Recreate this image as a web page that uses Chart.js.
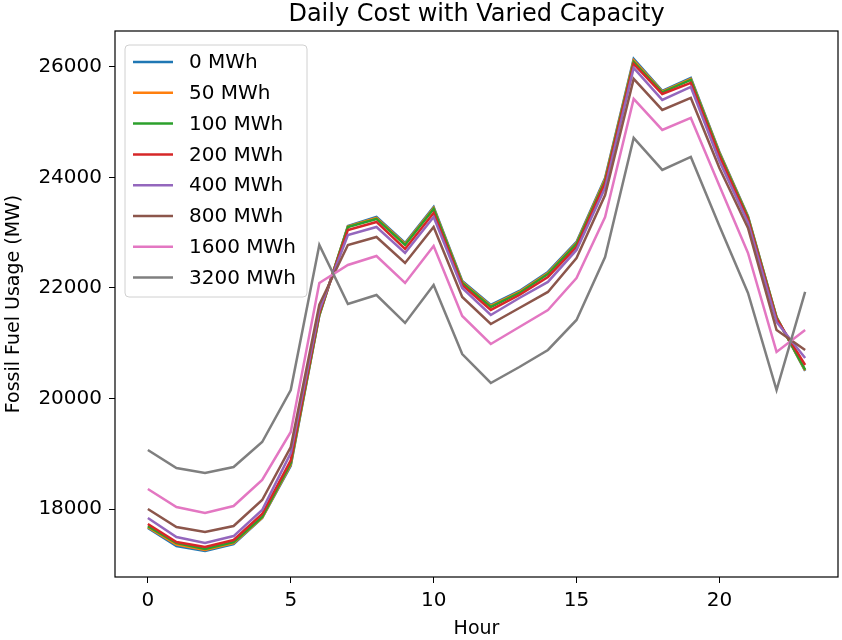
<!DOCTYPE html>
<html>
<head>
<meta charset="utf-8">
<script src="https://cdn.jsdelivr.net/npm/chart.js@4.4.1/dist/chart.umd.min.js"></script>
<style>
  html, body { margin: 0; padding: 0; background: #fff; }
</style>
</head>
<body>
<canvas id="chart" width="842" height="640"></canvas>
<script>
// data
const hours = [0, 1, 2, 3, 4, 5, 6, 7, 8, 9, 10, 11, 12, 13, 14, 15, 16, 17, 18, 19, 20, 21, 22, 23];
const capacities = ['0 MWh', '50 MWh', '100 MWh', '200 MWh', '400 MWh', '800 MWh', '1600 MWh', '3200 MWh'];
const xTicks = [0, 5, 10, 15, 20];
const yTicks = [18000, 20000, 22000, 24000, 26000];

const cap0    = [17656, 17330, 17240, 17367, 17837, 18780, 21500, 23122, 23285, 22814, 23466, 22127, 21692, 21946, 22290, 22833, 23990, 26145, 25566, 25801, 24462, 23300, 21475, 20500];
const cap50   = [17670, 17355, 17258, 17385, 17845, 18805, 21510, 23112, 23268, 22796, 23448, 22110, 21675, 21928, 22270, 22815, 23965, 26120, 25552, 25784, 24446, 23285, 21468, 20510];
const cap100  = [17690, 17385, 17276, 17403, 17855, 18830, 21520, 23104, 23249, 22778, 23430, 22090, 21656, 21910, 22253, 22796, 23937, 26090, 25540, 25765, 24430, 23270, 21460, 20520];
const cap200  = [17728, 17403, 17312, 17439, 17910, 18880, 21550, 23050, 23195, 22706, 23357, 22054, 21602, 21873, 22199, 22742, 23900, 26054, 25511, 25710, 24389, 23240, 21439, 20606];
const cap400  = [17837, 17493, 17385, 17511, 17982, 19013, 21600, 22959, 23104, 22633, 23285, 22000, 21511, 21819, 22109, 22688, 23810, 25982, 25403, 25638, 24299, 23180, 21385, 20733];
const cap800  = [18000, 17674, 17584, 17692, 18163, 19122, 21700, 22778, 22923, 22452, 23104, 21837, 21348, 21638, 21928, 22543, 23683, 25783, 25222, 25439, 24172, 23086, 21240, 20878];
const cap1600 = [18362, 18036, 17928, 18054, 18525, 19394, 22090, 22416, 22579, 22090, 22760, 21493, 20986, 21294, 21602, 22181, 23285, 25421, 24860, 25077, 23850, 22633, 20842, 21240];
const cap3200 = [19068, 18742, 18652, 18760, 19213, 20154, 22778, 21710, 21873, 21367, 22054, 20805, 20281, 20570, 20878, 21421, 22561, 24715, 24136, 24371, 23122, 21910, 20154, 21928];

const series = [cap0, cap50, cap100, cap200, cap400, cap800, cap1600, cap3200];
const colors = ['#1f77b4', '#ff7f0e', '#2ca02c', '#d62728', '#9467bd', '#8c564b', '#e377c2', '#7f7f7f'];

const FONT = "'DejaVu Sans', sans-serif";

const datasets = series.map((vals, i) => ({
  label: capacities[i],
  data: hours.map((h, j) => ({ x: h, y: vals[j] })),
  borderColor: colors[i],
  backgroundColor: colors[i],
  borderWidth: 2.5,
  pointRadius: 0,
  tension: 0,
  order: series.length - i  // later series on top, like matplotlib
}));

// title, frame and legend drawn by hand to match the matplotlib look
const extras = {
  id: 'extras',
  afterDatasetsDraw(chart) {
    const ctx = chart.ctx;
    const a = chart.chartArea;
    ctx.save();
    ctx.strokeStyle = '#000';
    ctx.lineWidth = 1.2;
    ctx.strokeRect(a.left, a.top, a.right - a.left, a.bottom - a.top);

    ctx.fillStyle = '#000';
    ctx.font = '24px ' + FONT;
    ctx.textAlign = 'center';
    ctx.textBaseline = 'middle';
    ctx.fillText('Daily Cost with Varied Capacity', (a.left + a.right) / 2, 15);

    // legend box
    const bx = 125, by = 45, bw = 182, bh = 252, r = 4;
    ctx.beginPath();
    ctx.moveTo(bx + r, by);
    ctx.arcTo(bx + bw, by, bx + bw, by + bh, r);
    ctx.arcTo(bx + bw, by + bh, bx, by + bh, r);
    ctx.arcTo(bx, by + bh, bx, by, r);
    ctx.arcTo(bx, by, bx + bw, by, r);
    ctx.closePath();
    ctx.fillStyle = 'rgba(255,255,255,0.8)';
    ctx.fill();
    ctx.strokeStyle = '#d0d0d0';
    ctx.lineWidth = 1;
    ctx.stroke();

    ctx.font = '20px ' + FONT;
    ctx.textAlign = 'left';
    chart.data.datasets.forEach((ds, i) => {
      const y = 62 + i * 30.8;
      ctx.strokeStyle = ds.borderColor;
      ctx.lineWidth = 2.5;
      ctx.beginPath();
      ctx.moveTo(133, y);
      ctx.lineTo(173, y);
      ctx.stroke();
      ctx.fillStyle = '#000';
      ctx.fillText(ds.label, 189, y + 1);
    });
    ctx.restore();
  }
};

new Chart(document.getElementById('chart'), {
  type: 'line',
  data: { datasets: datasets },
  options: {
    responsive: false,
    animation: false,
    layout: { padding: { top: 31, right: 4, left: 0, bottom: 0 } },
    plugins: {
      legend: { display: false },
      tooltip: { enabled: false }
    },
    scales: {
      x: {
        type: 'linear',
        min: -1.15,
        max: 24.15,
        afterBuildTicks: (scale) => { scale.ticks = xTicks.map(v => ({ value: v })); },
        afterFit: (scale) => { scale.height = 63; },
        grid: { drawOnChartArea: false, drawTicks: true, tickLength: 6, color: '#000', lineWidth: 1 },
        border: { display: false },
        ticks: { color: '#000', font: { family: FONT, size: 20 }, padding: 6, maxRotation: 0 },
        title: { display: true, text: 'Hour', color: '#000', font: { family: FONT, size: 19 }, padding: { top: 0, bottom: 0 } }
      },
      y: {
        min: 16770,
        max: 26650,
        afterBuildTicks: (scale) => { scale.ticks = yTicks.map(v => ({ value: v })); },
        afterFit: (scale) => { scale.width = 115; },
        grid: { drawOnChartArea: false, drawTicks: true, tickLength: 6, color: '#000', lineWidth: 1 },
        border: { display: false },
        ticks: { color: '#000', font: { family: FONT, size: 20 }, padding: 7, callback: (v) => String(v) },
        title: { display: true, text: 'Fossil Fuel Usage (MW)', color: '#000', font: { family: FONT, size: 19 }, padding: { top: 3, bottom: 0 } }
      }
    }
  },
  plugins: [extras]
});
</script>
</body>
</html>
